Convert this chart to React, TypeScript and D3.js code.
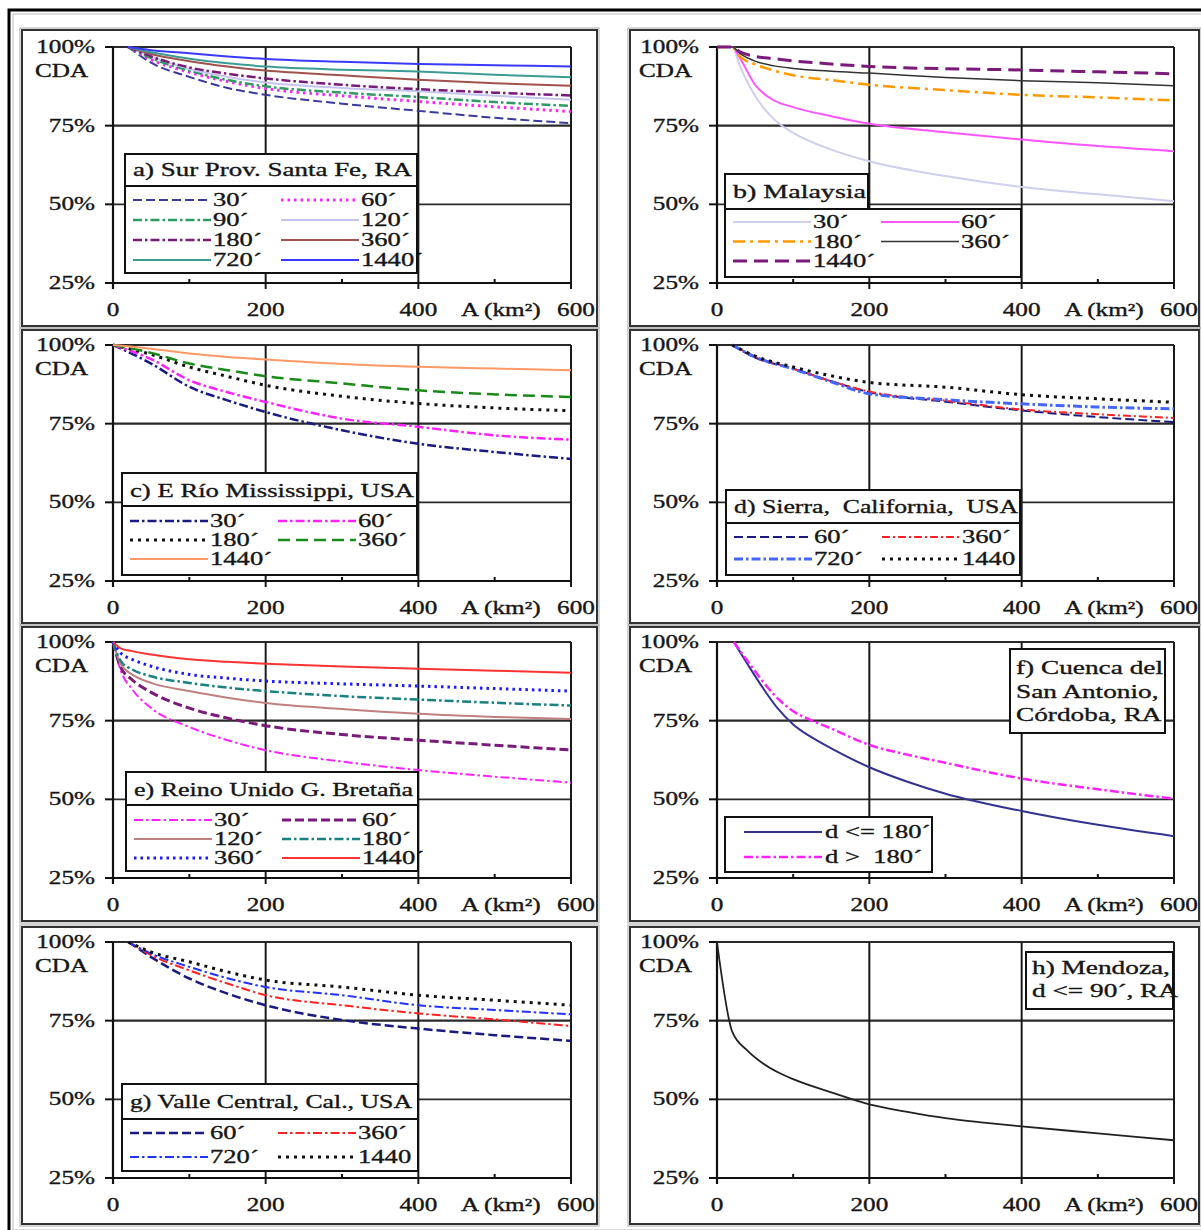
import React from "react";
import * as d3 from "d3";

const W = 1201;
const H = 1230;
const FONT = "'Liberation Serif', 'Times New Roman', serif";
const SX = 1.4; // the source figure is stretched horizontally

// ---- data (CDA %) ----
const xA = [20, 50, 100, 150, 200, 300, 400, 500, 600];
const a30 = [100, 95, 90.5, 87, 84.8, 82, 79.7, 77.5, 75.8];
const a60 = [100, 96, 92, 89, 86.8, 84.5, 82.7, 81, 79.5];
const a90 = [100, 96.5, 92.5, 89.5, 87.5, 85.5, 84.1, 82.5, 81.3];
const a120 = [100, 97, 93, 90.5, 88.7, 87, 85.9, 84.5, 83.2];
const a180 = [100, 97, 93.5, 91.5, 90, 88, 86.6, 85.5, 84.6];
const a360 = [100, 97.8, 95.5, 93.8, 92.5, 91, 89.6, 88.5, 87.7];
const a720 = [100, 98.3, 96.3, 94.8, 93.8, 92.8, 92.2, 91.2, 90.4];
const a1440 = [100, 99, 98, 97, 96.2, 95.3, 94.6, 94.2, 93.8];

const xB = [0, 20, 30, 50, 75, 100, 150, 200, 300, 400, 500, 600];
const b30 = [100, 100, 94, 84.5, 77, 72.7, 67.4, 63.7, 59, 55.5, 53.2, 51];
const b60 = [100, 100, 96.5, 88, 83, 80.9, 78, 75.6, 72.9, 70.6, 68.5, 66.9];
const b180 = [100, 100, 97, 94.5, 92.5, 91, 89.5, 88, 86.3, 84.8, 84, 83];
const b360 = [100, 100, 98, 95.5, 94, 93.2, 92.3, 91.7, 90.3, 89.3, 88.6, 87.7];
const b1440 = [100, 100, 98.5, 97, 96.3, 95.6, 94.6, 93.8, 93.1, 92.7, 92.1, 91.5];

const xC = [0, 50, 100, 150, 200, 300, 400, 500, 600];
const c30 = [100, 94.1, 86.7, 82.4, 78.7, 72.9, 68.6, 66, 63.8];
const c60 = [100, 95.5, 88.8, 85, 81.9, 76.6, 74, 71.3, 69.9];
const c180 = [100, 97, 93, 90, 87.2, 83.7, 81.4, 80, 79.1];
const c360 = [100, 97.5, 94.1, 92, 90.1, 87.8, 85.6, 84.3, 83.5];
const c1440 = [100, 98.8, 97.3, 96.2, 95.4, 94, 93.1, 92.5, 92];

const xD = [20, 50, 100, 150, 200, 300, 400, 500, 600];
const d60 = [100, 96, 92.5, 88.5, 85, 82, 79.2, 77.1, 75.5];
const d360 = [100, 96.3, 92.5, 88.5, 85.2, 82.3, 79.5, 78, 76.8];
const d720 = [100, 96.2, 92.4, 88.3, 84.5, 82.6, 81.3, 80.3, 79.7];
const d1440 = [100, 96.5, 93, 90.2, 88.1, 86.6, 84.2, 82.9, 81.8];

const xE = [0, 10, 25, 50, 100, 150, 200, 300, 400, 500, 600];
const e30 = [100, 91, 85, 79, 73, 68.8, 65.6, 62, 59.3, 57.2, 55.3];
const e60 = [100, 92, 88, 84, 79, 75.8, 73.4, 70.6, 68.8, 67.2, 65.7];
const e120 = [100, 93, 89.7, 87, 84.4, 82.3, 80.6, 78.7, 77.2, 76.2, 75.5];
const e180 = [100, 94, 91.3, 89.1, 87, 85.5, 84.4, 82.8, 81.7, 80.7, 79.8];
const e360 = [100, 96.5, 94.5, 92.3, 89.7, 88.5, 87.6, 86.7, 86, 85.2, 84.4];
const e1440 = [100, 98, 97.1, 96, 94.5, 93.7, 93.1, 92.2, 91.5, 90.9, 90.2];

const xF = [22, 40, 60, 80, 100, 125, 150, 200, 250, 300, 400, 500, 600];
const fLe180 = [100, 93, 85.5, 78.8, 73.8, 69.6, 66.2, 60.2, 55.6, 51.8, 46.3, 41.9, 38.3];
const fGt180 = [100, 94, 87.5, 82, 78, 75, 72.5, 67.3, 64.2, 61.6, 56.6, 53.2, 50.2];

const xG = [20, 50, 100, 150, 200, 300, 400, 500, 600];
const g60 = [100, 95.2, 88.4, 83.6, 79.9, 75.2, 72.5, 70.4, 68.6];
const g360 = [100, 95.8, 91, 86.8, 83.1, 79.9, 77.3, 75.4, 73.3];
const g720 = [100, 96.3, 92.1, 88.5, 85.7, 83.1, 79.9, 78.4, 77];
const g1440 = [100, 96.8, 93.7, 90.5, 87.9, 85.7, 83.1, 81.5, 79.9];

const xH = [0, 20, 40, 60, 80, 100, 150, 200, 250, 300, 350, 400, 500, 600];
const hAll = [100, 71.5, 65.5, 61.5, 58.6, 56.4, 52.2, 48.4, 46, 44, 42.6, 41.4, 39.2, 37];

const yTicks = [100, 75, 50, 25];
const xMajor = [0, 200, 400, 600];
const xMinor = [100, 300, 500];

// ---- styles ----
const DASH = "9,4";
const DASHDOT = "9,3,2.5,3";
const DOT = "2.5,4";

const cols = [
  { x0: 113, x1: 571, bl: 22, br: 597 },
  { x0: 717, x1: 1174, bl: 630, br: 1199 },
];
const rows = [
  { y100: 47, bt: 30, bb: 326 },
  { y100: 345, bt: 330, bb: 623 },
  { y100: 642, bt: 627, bb: 921 },
  { y100: 942, bt: 927, bb: 1224 },
];
const PH = 236;

type S = { x: number[]; y: number[]; label: string; color: string; dash?: string; w?: number };

const mk = (x: number[], y: number[], label: string, color: string, dash?: string, w = 2): S => ({ x, y, label, color, dash, w });

const panels = [
  {
    c: 0, r: 0,
    series: [
      mk(xA, a30, "30´", "#3a3a9c", DASH),
      mk(xA, a60, "60´", "#ff22ff", DOT, 3),
      mk(xA, a90, "90´", "#2f9a62", DASHDOT, 2.5),
      mk(xA, a120, "120´", "#c4c4f0", undefined, 2),
      mk(xA, a180, "180´", "#7a1a7a", DASHDOT, 2.5),
      mk(xA, a360, "360´", "#a0524d", undefined, 2),
      mk(xA, a720, "720´", "#3a9c94", undefined, 2),
      mk(xA, a1440, "1440´", "#3a3aff", undefined, 2),
    ],
    legend: { title: "a) Sur Prov. Santa Fe, RA", tw: 279, left: 125, right: 417, top: 154, ty: 170, sep: 186, r0: 200, rh: 20, bottom: 273 },
  },
  {
    c: 1, r: 0,
    series: [
      mk(xB, b30, "30´", "#cfcfee", undefined, 2),
      mk(xB, b60, "60´", "#ff55ff", undefined, 2),
      mk(xB, b180, "180´", "#ff9900", "12,5,3,5", 2.5),
      mk(xB, b360, "360´", "#333333", undefined, 1.5),
      mk(xB, b1440, "1440´", "#7a1a7a", "14,7", 3),
    ],
    legend: { title: "b) Malaysia", tw: 133, left: 725, right: 1021, titleRight: 868, top: 174, ty: 192, sep: 209, r0: 222, rh: 19.5, bottom: 277 },
  },
  {
    c: 0, r: 1,
    series: [
      mk(xC, c30, "30´", "#1a1a80", DASHDOT, 2.5),
      mk(xC, c60, "60´", "#ff22ff", DASHDOT, 2.5),
      mk(xC, c180, "180´", "#111111", "3,5", 3),
      mk(xC, c360, "360´", "#1a8a1a", "12,6", 2.5),
      mk(xC, c1440, "1440´", "#ff9966", undefined, 2),
    ],
    legend: { title: "c) E Río Mississippi, USA", tw: 284, left: 122, right: 417, top: 473, ty: 491, sep: 506, r0: 521, rh: 19, bottom: 575 },
  },
  {
    c: 1, r: 1,
    series: [
      mk(xD, d60, "60´", "#1a1a80", DASH, 2),
      mk(xD, d360, "360´", "#ff2222", "8,3,2,3", 2),
      mk(xD, d720, "720´", "#4466ff", DASHDOT, 3),
      mk(xD, d1440, "1440", "#111111", "3,5", 3),
    ],
    legend: { title: "d) Sierra,  California,  USA", tw: 284, left: 726, right: 1020, top: 490, ty: 507, sep: 523, r0: 537, rh: 22, bottom: 575 },
  },
  {
    c: 0, r: 2,
    series: [
      mk(xE, e30, "30´", "#ff22ff", DASHDOT, 2),
      mk(xE, e60, "60´", "#7a1a7a", DASH, 3),
      mk(xE, e120, "120´", "#c08080", undefined, 2),
      mk(xE, e180, "180´", "#1a8080", DASHDOT, 2.5),
      mk(xE, e360, "360´", "#1a1aff", DOT, 3),
      mk(xE, e1440, "1440´", "#ff3333", undefined, 2),
    ],
    legend: { title: "e) Reino Unido G. Bretaña", tw: 279, left: 126, right: 418, top: 772, ty: 790, sep: 805, r0: 820, rh: 19, bottom: 871 },
  },
  {
    c: 1, r: 2,
    series: [
      mk(xF, fLe180, "d <= 180´", "#33338f", undefined, 2),
      mk(xF, fGt180, "d >  180´", "#ff22ff", DASHDOT, 2.5),
    ],
    legend: { left: 725, right: 932, top: 817, r0: 832, rh: 25, bottom: 872, single: true },
    note: { lines: ["f) Cuenca del", "San Antonio,", "Córdoba, RA"], left: 1010, right: 1165, top: 649, bottom: 733, y0: 668, lh: 23.5 },
  },
  {
    c: 0, r: 3,
    series: [
      mk(xG, g60, "60´", "#1a1a80", DASH, 2.5),
      mk(xG, g360, "360´", "#ff2222", DASHDOT, 2),
      mk(xG, g720, "720´", "#2233ff", DASHDOT, 2),
      mk(xG, g1440, "1440", "#111111", "3,5", 3),
    ],
    legend: { title: "g) Valle Central, Cal., USA", tw: 282, left: 122, right: 418, top: 1084, ty: 1102, sep: 1119, r0: 1133, rh: 24, bottom: 1171 },
  },
  {
    c: 1, r: 3,
    series: [mk(xH, hAll, "", "#222222", undefined, 1.8)],
    note: { lines: ["h) Mendoza,", "d <= 90´, RA"], left: 1026, right: 1173, top: 952, bottom: 1009, y0: 968, lh: 23 },
  },
];

function T({ x, y, children, anchor = "start", size = 18, tw }: any) {
  return (
    <text
      transform={`translate(${x},${y}) scale(${SX},1)`}
      textAnchor={anchor}
      fontFamily={FONT}
      fontSize={size}
      fill="#161616"
      stroke="#161616"
      strokeWidth={0.35}
      style={{ whiteSpace: "pre" }}
      textLength={tw ? tw / SX : undefined}
      lengthAdjust={tw ? "spacingAndGlyphs" : undefined}
    >
      {children}
    </text>
  );
}

function Panel({ p }: any) {
  const col = cols[p.c];
  const row = rows[p.r];
  const x = d3.scaleLinear().domain([0, 600]).range([col.x0, col.x1]);
  const y = d3.scaleLinear().domain([25, 100]).range([row.y100 + PH, row.y100]);
  const line = d3
    .line<[number, number]>()
    .x((d) => x(d[0]))
    .y((d) => y(d[1]))
    .curve(d3.curveMonotoneX);
  const yb = y(25);
  const lg = p.legend;
  const nt = p.note;

  return (
    <g>
      {/* panel frame */}
      <rect x={col.bl - 2} y={row.bt - 2} width={col.br - col.bl + 4} height={row.bb - row.bt + 4} fill="none" stroke="#aaa" strokeWidth={1} />
      <rect x={col.bl} y={row.bt} width={col.br - col.bl} height={row.bb - row.bt} fill="#fff" stroke="#333" strokeWidth={2} />

      {/* grid */}
      {[75, 50, 100].map((v) => (
        <line key={"h" + v} x1={x(0)} x2={x(600)} y1={y(v)} y2={y(v)} stroke="#2a2a2a" strokeWidth={v === 75 ? 2.2 : 1.8} />
      ))}
      {[200, 400, 600].map((v) => (
        <line key={"v" + v} x1={x(v)} x2={x(v)} y1={y(100)} y2={yb + 6} stroke="#1a1a1a" strokeWidth={2} />
      ))}
      {/* axes */}
      <line x1={x(0)} x2={x(0)} y1={y(100)} y2={yb + 6} stroke="#111" strokeWidth={2.2} />
      <line x1={x(0) - 8} x2={x(600)} y1={yb} y2={yb} stroke="#111" strokeWidth={2.2} />
      {yTicks.map((v) => (
        <line key={"yt" + v} x1={x(0) - 8} x2={x(0)} y1={y(v)} y2={y(v)} stroke="#111" strokeWidth={2} />
      ))}
      {xMinor.map((v) => (
        <line key={"mt" + v} x1={x(v)} x2={x(v)} y1={yb} y2={yb - 4} stroke="#111" strokeWidth={2} />
      ))}

      {/* tick labels */}
      {yTicks.map((v) => (
        <T key={"yl" + v} x={x(0) - 18} y={y(v) + 6} anchor="end">
          {v + "%"}
        </T>
      ))}
      <T x={x(0) - 78} y={y(100) + 30}>CDA</T>
      {xMajor.map((v) => (
        <T key={"xl" + v} x={v === 600 ? x(v) + 5 : x(v)} y={yb + 33} anchor="middle">
          {String(v)}
        </T>
      ))}
      <T x={x(508)} y={yb + 33} anchor="middle">A (km²)</T>

      {/* curves */}
      {p.series.map((s: S, i: number) => (
        <path
          key={"s" + i}
          d={line(s.x.map((v, k) => [v, s.y[k]] as [number, number])) || ""}
          fill="none"
          stroke={s.color}
          strokeWidth={s.w}
          strokeDasharray={s.dash}
        />
      ))}

      {/* legend */}
      {lg && !lg.single && (
        <g>
          <rect x={lg.left} y={lg.top} width={(lg.titleRight || lg.right) - lg.left} height={lg.sep - lg.top} fill="#fff" stroke="#111" strokeWidth={2} />
          <rect x={lg.left} y={lg.sep} width={lg.right - lg.left} height={lg.bottom - lg.sep} fill="#fff" stroke="#111" strokeWidth={2} />
          <T x={lg.left + 8} y={lg.ty + 6} size={19.5} tw={lg.tw}>{lg.title}</T>
          {p.series.map((s: S, i: number) => {
            const cx = lg.left + (i % 2 === 0 ? 8 : 156);
            const cy = lg.r0 + Math.floor(i / 2) * lg.rh;
            return (
              <g key={"l" + i}>
                <line x1={cx} x2={cx + 78} y1={cy} y2={cy} stroke={s.color} strokeWidth={s.w} strokeDasharray={s.dash} />
                <T x={cx + 80} y={cy + 6} size={19}>{s.label}</T>
              </g>
            );
          })}
        </g>
      )}
      {lg && lg.single && (
        <g>
          <rect x={lg.left} y={lg.top} width={lg.right - lg.left} height={lg.bottom - lg.top} fill="#fff" stroke="#111" strokeWidth={2} />
          {p.series.map((s: S, i: number) => {
            const cy = lg.r0 + i * lg.rh;
            return (
              <g key={"l" + i}>
                <line x1={lg.left + 19} x2={lg.left + 97} y1={cy} y2={cy} stroke={s.color} strokeWidth={s.w} strokeDasharray={s.dash} />
                <T x={lg.left + 100} y={cy + 6} size={19}>{s.label}</T>
              </g>
            );
          })}
        </g>
      )}
      {nt && (
        <g>
          <rect x={nt.left} y={nt.top} width={nt.right - nt.left} height={nt.bottom - nt.top} fill="#fff" stroke="#111" strokeWidth={2} />
          {nt.lines.map((t: string, i: number) => (
            <T key={"n" + i} x={nt.left + 6} y={nt.y0 + i * nt.lh + 6} size={19.5}>{t}</T>
          ))}
        </g>
      )}
    </g>
  );
}

export default function App() {
  return (
    <svg width={W} height={H} style={{ position: "absolute", left: 0, top: 0, background: "#fff" }}>
      <rect x={0} y={0} width={W} height={H} fill="#fff" />
      <rect x={9} y={10} width={1200} height={1224} fill="none" stroke="#000" strokeWidth={3} />
      <rect x={13} y={14} width={1192} height={1216} fill="none" stroke="#bbb" strokeWidth={1} />
      {panels.map((p, i) => (
        <Panel key={i} p={p} />
      ))}
    </svg>
  );
}
